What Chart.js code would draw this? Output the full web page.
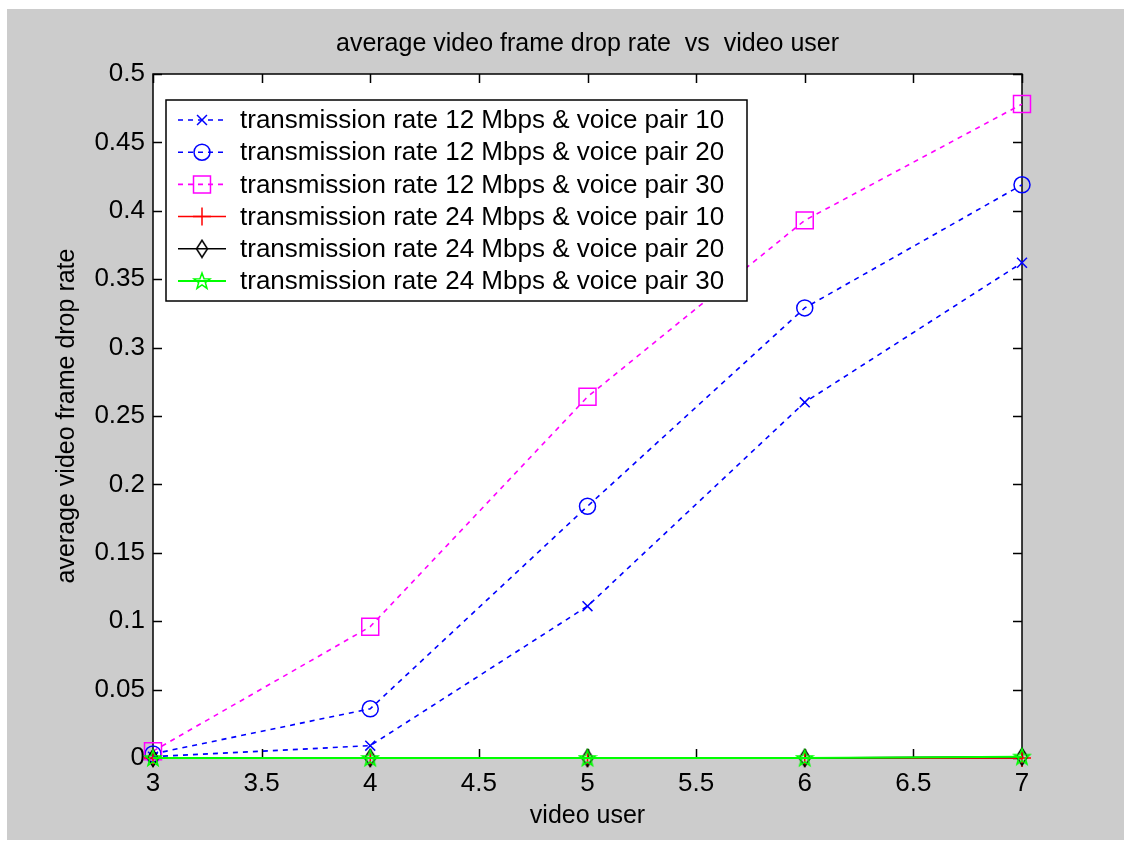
<!DOCTYPE html>
<html>
<head>
<meta charset="utf-8">
<script src="https://cdn.jsdelivr.net/npm/chart.js@4.4.1/dist/chart.umd.min.js"></script>
<style>
  html, body { margin: 0; padding: 0; background: #fff; }
  #wrap { width: 1124px; height: 841px; }
</style>
</head>
<body>
<div id="wrap"><canvas id="chart" width="1124" height="841"></canvas></div>
<script>
// data
const videoUsers = [3, 4, 5, 6, 7];
const rate12Voice10 = [0.001, 0.009, 0.111, 0.260, 0.362];
const rate12Voice20 = [0.003, 0.036, 0.184, 0.329, 0.419];
const rate12Voice30 = [0.005, 0.096, 0.264, 0.393, 0.478];
const rate24Voice10 = [0, 0, 0, 0, 0];
const rate24Voice20 = [0, 0, 0, 0, 0.001];
const rate24Voice30 = [0, 0, 0, 0, 0.001];

const seriesLabels = [
    'transmission rate 12 Mbps & voice pair 10',
    'transmission rate 12 Mbps & voice pair 20',
    'transmission rate 12 Mbps & voice pair 30',
    'transmission rate 24 Mbps & voice pair 10',
    'transmission rate 24 Mbps & voice pair 20',
    'transmission rate 24 Mbps & voice pair 30'
];
const xTickLabels = ['3', '3.5', '4', '4.5', '5', '5.5', '6', '6.5', '7'];
const yTickLabels = ['0', '0.05', '0.1', '0.15', '0.2', '0.25', '0.3', '0.35', '0.4', '0.45', '0.5'];

const chartTitle = 'average video frame drop rate  vs  video user';
const xTitle = 'video user';
const yTitle = 'average video frame drop rate';

const FONT = '"Liberation Sans", Arial, Helvetica, sans-serif';
const FONT_SIZE = 25;
const TEXT_SIZE = 26;

// MATLAB-ish markers that Chart.js has no built-in style for
function makeDiamond(color) {
    const c = document.createElement('canvas');
    c.width = 14; c.height = 20;
    const g = c.getContext('2d');
    g.strokeStyle = color; g.lineWidth = 1.5;
    g.beginPath();
    g.moveTo(7, 1.5); g.lineTo(12.5, 10); g.lineTo(7, 18.5); g.lineTo(1.5, 10);
    g.closePath(); g.stroke();
    return c;
}
function makePentagram(color) {
    const c = document.createElement('canvas');
    c.width = 20; c.height = 20;
    const g = c.getContext('2d');
    g.strokeStyle = color; g.lineWidth = 1.5;
    g.beginPath();
    for (let i = 0; i < 10; i++) {
        const r = i % 2 === 0 ? 8.5 : 3.5;
        const a = -Math.PI / 2 + i * Math.PI / 5;
        const px = 10 + r * Math.cos(a), py = 10.5 + r * Math.sin(a);
        if (i === 0) g.moveTo(px, py); else g.lineTo(px, py);
    }
    g.closePath(); g.stroke();
    return c;
}

function toPoints(ys) {
    return videoUsers.map((x, i) => ({ x: x, y: ys[i] }));
}

const styles = [
    { color: '#0000ff', dash: [5, 5], pointStyle: 'crossRot', radius: 7, width: 1.6 },
    { color: '#0000ff', dash: [5, 5], pointStyle: 'circle', radius: 8, width: 1.6 },
    { color: '#ff00ff', dash: [5, 5], pointStyle: 'rect', radius: 12, width: 1.6 },
    { color: '#ff0000', dash: [], pointStyle: 'cross', radius: 9, width: 1.5 },
    { color: '#000000', dash: [], pointStyle: makeDiamond('#000000'), radius: 8, width: 1.5 },
    { color: '#00ff00', dash: [], pointStyle: makePentagram('#00ff00'), radius: 8, width: 2 }
];
const seriesValues = [rate12Voice10, rate12Voice20, rate12Voice30, rate24Voice10, rate24Voice20, rate24Voice30];

const datasets = seriesValues.map((vals, i) => ({
    label: seriesLabels[i],
    data: toPoints(vals),
    borderColor: styles[i].color,
    borderWidth: styles[i].width,
    borderDash: styles[i].dash,
    pointStyle: styles[i].pointStyle,
    pointRadius: styles[i].radius,
    pointBorderColor: styles[i].color,
    pointBackgroundColor: 'rgba(0,0,0,0)',
    pointBorderWidth: 1.5,
    fill: false,
    tension: 0,
    clip: false,
    order: seriesValues.length - i
}));

// gray figure, white axes, box with inward ticks, title
const figurePlugin = {
    id: 'figure',
    beforeDraw(chart) {
        const { ctx, chartArea: a } = chart;
        ctx.save();
        ctx.fillStyle = '#ffffff';
        ctx.fillRect(0, 0, chart.width, chart.height);
        ctx.fillStyle = '#cccccc';
        ctx.fillRect(7, 9, chart.width - 7, 831);
        ctx.fillStyle = '#ffffff';
        ctx.fillRect(a.left, a.top, a.right - a.left, a.bottom - a.top);
        ctx.restore();
    },
    beforeDatasetsDraw(chart) {
        const { ctx, chartArea: a, scales } = chart;
        ctx.save();
        ctx.strokeStyle = '#000';
        ctx.lineWidth = 1.5;
        ctx.strokeRect(a.left, a.top, a.right - a.left, a.bottom - a.top);
        ctx.beginPath();
        scales.x.ticks.forEach(t => {
            const px = Math.round(scales.x.getPixelForValue(t.value)) + 0.5;
            ctx.moveTo(px, a.bottom); ctx.lineTo(px, a.bottom - 9);
            ctx.moveTo(px, a.top); ctx.lineTo(px, a.top + 9);
        });
        scales.y.ticks.forEach(t => {
            const py = Math.round(scales.y.getPixelForValue(t.value)) + 0.5;
            ctx.moveTo(a.left, py); ctx.lineTo(a.left + 9, py);
            ctx.moveTo(a.right, py); ctx.lineTo(a.right - 9, py);
        });
        ctx.stroke();
        ctx.restore();
    },
    afterDraw(chart) {
        const { ctx, chartArea: a } = chart;
        ctx.save();
        ctx.fillStyle = '#000';
        ctx.font = FONT_SIZE + 'px ' + FONT;
        ctx.textAlign = 'center';
        ctx.textBaseline = 'middle';
        ctx.fillText(chartTitle, (a.left + a.right) / 2, 44);
        ctx.restore();
    }
};

// legend box in the upper left of the axes, like MATLAB's
const legendPlugin = {
    id: 'boxLegend',
    afterDraw(chart) {
        const ctx = chart.ctx;
        const box = { left: 166, top: 100, right: 747, bottom: 301 };
        const rowTop = 120, rowStep = 32.2;
        ctx.save();
        ctx.fillStyle = '#fff';
        ctx.fillRect(box.left, box.top, box.right - box.left, box.bottom - box.top);
        ctx.strokeStyle = '#000';
        ctx.lineWidth = 1.5;
        ctx.strokeRect(box.left, box.top, box.right - box.left, box.bottom - box.top);
        chart.data.datasets.forEach((ds, i) => {
            const y = rowTop + i * rowStep;
            ctx.strokeStyle = ds.borderColor;
            ctx.lineWidth = ds.borderWidth;
            ctx.setLineDash(ds.borderDash);
            ctx.beginPath();
            ctx.moveTo(178, y); ctx.lineTo(226, y);
            ctx.stroke();
            ctx.setLineDash([]);
            ctx.lineWidth = ds.pointBorderWidth;
            ctx.strokeStyle = ds.pointBorderColor;
            ctx.fillStyle = 'rgba(0,0,0,0)';
            Chart.helpers.drawPoint(ctx, {
                pointStyle: ds.pointStyle,
                radius: ds.pointRadius,
                borderWidth: ds.pointBorderWidth,
                rotation: 0
            }, 202, y);
            ctx.fillStyle = '#000';
            ctx.font = TEXT_SIZE + 'px ' + FONT;
            ctx.textAlign = 'left';
            ctx.textBaseline = 'middle';
            ctx.fillText(ds.label, 240, y + 1);
        });
        ctx.restore();
    }
};

const ctx = document.getElementById('chart').getContext('2d');
new Chart(ctx, {
    type: 'line',
    data: { datasets: datasets },
    options: {
        responsive: false,
        animation: false,
        devicePixelRatio: 1,
        layout: { padding: { top: 74, right: 102, bottom: 0, left: 0 } },
        plugins: {
            legend: { display: false },
            title: { display: false },
            tooltip: { enabled: false }
        },
        scales: {
            x: {
                type: 'linear',
                min: 3,
                max: 7,
                offset: false,
                grid: { display: false, drawTicks: false },
                border: { display: false },
                ticks: {
                    stepSize: 0.5,
                    padding: 10,
                    color: '#000',
                    font: { family: FONT, size: TEXT_SIZE },
                    maxRotation: 0,
                    callback: (v) => xTickLabels[Math.round((v - 3) / 0.5)]
                },
                title: {
                    display: true,
                    text: xTitle,
                    color: '#000',
                    font: { family: FONT, size: FONT_SIZE },
                    padding: { top: 0, bottom: 10 }
                },
                afterFit(scale) { scale.height = 83; }
            },
            y: {
                min: 0,
                max: 0.5,
                grid: { display: false, drawTicks: false },
                border: { display: false },
                ticks: {
                    stepSize: 0.05,
                    padding: 8,
                    color: '#000',
                    font: { family: FONT, size: TEXT_SIZE },
                    callback: (v) => yTickLabels[Math.round(v / 0.05)]
                },
                title: {
                    display: true,
                    text: yTitle,
                    color: '#000',
                    font: { family: FONT, size: FONT_SIZE },
                    padding: { top: 52, bottom: 0 }
                },
                afterFit(scale) { scale.width = 153; }
            }
        }
    },
    plugins: [figurePlugin, legendPlugin]
});
</script>
</body>
</html>
